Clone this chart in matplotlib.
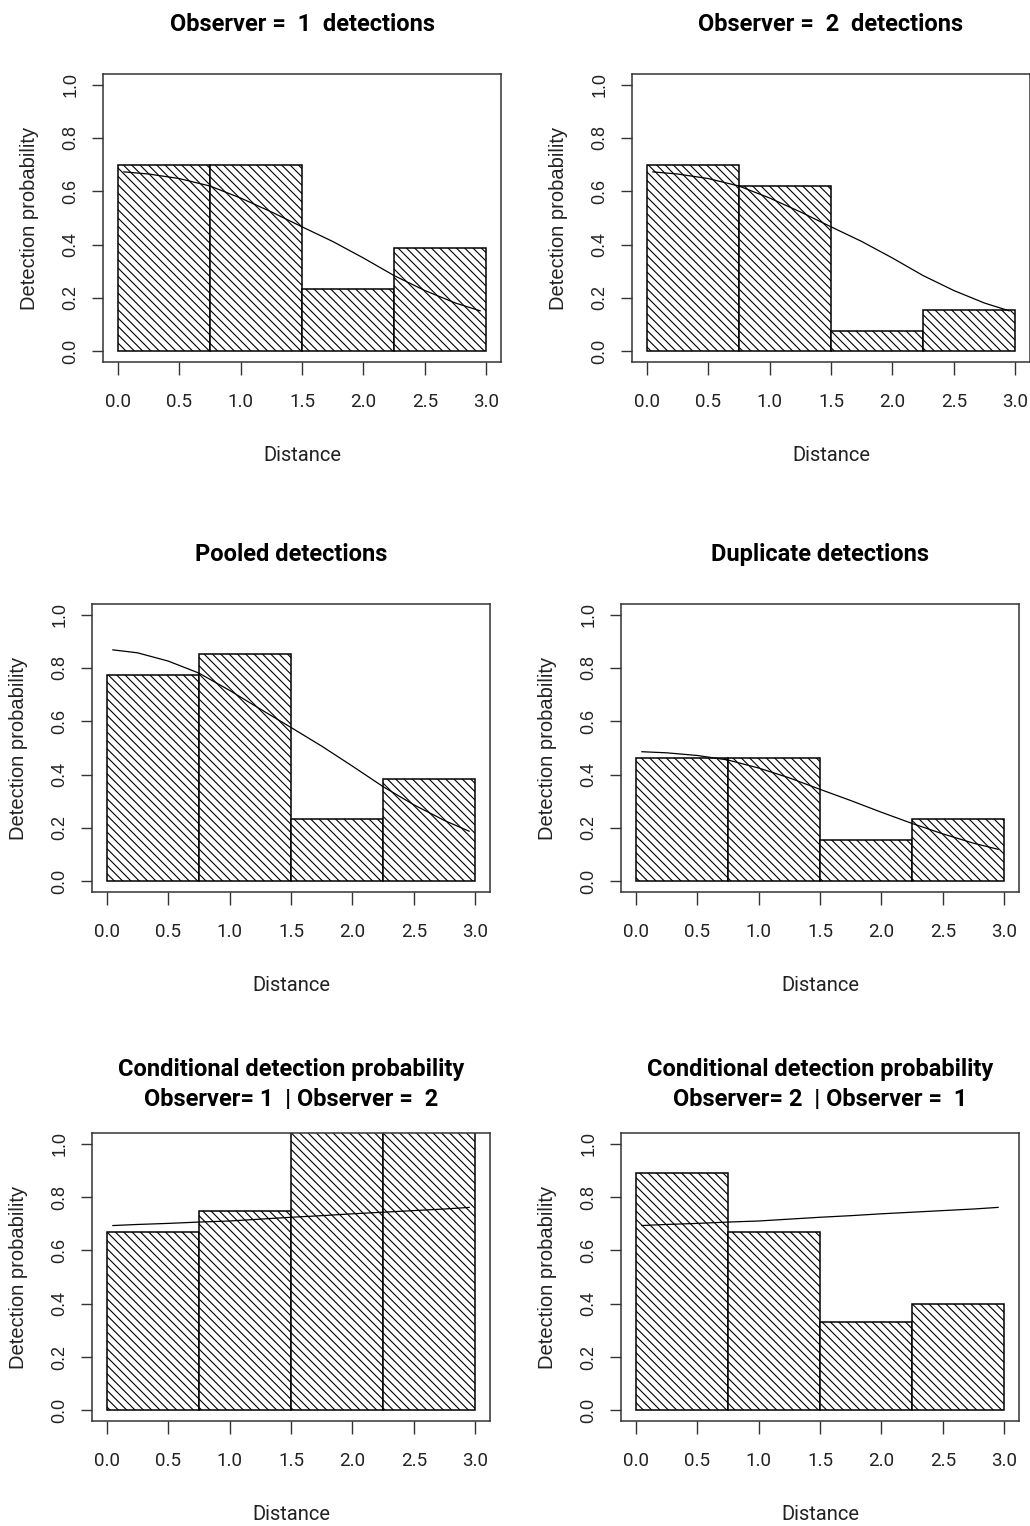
"""Histogrammes de probabilite de detection (double observateur) avec courbe ajustee."""
import matplotlib

matplotlib.use("Agg")
import matplotlib.pyplot as plt
from matplotlib import font_manager

names = {f.name for f in font_manager.fontManager.ttflist}
NARROW = "Liberation Sans Narrow" if "Liberation Sans Narrow" in names else "Roboto"
REGULAR = "Liberation Sans"

plt.rcParams["hatch.linewidth"] = 0.8

# classes de distance
BREAKS = [0.0, 0.75, 1.5, 2.25, 3.0]
CURVE_X = [0.05, 0.25, 0.5, 0.75, 1.0, 1.25, 1.5, 1.75, 2.0, 2.25, 2.5, 2.75, 2.95]

obs1_bars = [0.70, 0.70, 0.233, 0.386]
obs2_bars = [0.70, 0.621, 0.077, 0.155]
pooled_bars = [0.772, 0.851, 0.233, 0.385]
dup_bars = [0.464, 0.464, 0.156, 0.234]
cond12_bars = [0.667, 0.749, 1.2, 1.2]  # deux dernieres hors cadre
cond21_bars = [0.890, 0.667, 0.332, 0.400]

obs_curve = [0.673, 0.665, 0.648, 0.620, 0.575, 0.523, 0.467, 0.412, 0.350, 0.284, 0.228, 0.181, 0.152]
pooled_curve = [0.868, 0.857, 0.826, 0.781, 0.716, 0.646, 0.577, 0.507, 0.432, 0.355, 0.287, 0.228, 0.188]
dup_curve = [0.486, 0.482, 0.472, 0.455, 0.425, 0.388, 0.345, 0.303, 0.259, 0.217, 0.178, 0.143, 0.120]
cond_curve = [0.693, 0.697, 0.701, 0.706, 0.710, 0.717, 0.724, 0.730, 0.737, 0.743, 0.749, 0.755, 0.761]

PANELS = [
    ("Observer =  1  detections", obs1_bars, obs_curve),
    ("Observer =  2  detections", obs2_bars, obs_curve),
    ("Pooled detections", pooled_bars, pooled_curve),
    ("Duplicate detections", dup_bars, dup_curve),
    ("Conditional detection probability\nObserver= 1  | Observer =  2", cond12_bars, cond_curve),
    ("Conditional detection probability\nObserver= 2  | Observer =  1", cond21_bars, cond_curve),
]
# coin haut-gauche des cadres, en pixels
BOXES = [(103, 74), (632, 74), (92, 604), (621, 604), (92, 1133), (621, 1133)]

W, H = 1030, 1526
fig = plt.figure(figsize=(W / 100, H / 100), dpi=100)

for (title, bars, curve), (bx, by) in zip(PANELS, BOXES):
    ax = fig.add_axes([bx / W, 1 - (by + 288) / H, 398 / W, 288 / H])
    widths = [b - a for a, b in zip(BREAKS[:-1], BREAKS[1:])]
    ax.bar(BREAKS[:-1], bars, width=widths, align="edge", facecolor="white",
           edgecolor="black", linewidth=1.1, hatch="\\\\\\\\")
    ax.plot(CURVE_X, curve, color="black", linewidth=0.9)
    ax.set_xlim(-0.12, 3.12)
    ax.set_ylim(-0.04, 1.04)
    ax.set_xticks([0, 0.5, 1.0, 1.5, 2.0, 2.5, 3.0])
    ax.set_yticks([0, 0.2, 0.4, 0.6, 0.8, 1.0])
    ax.set_xticklabels([f"{v:.1f}" for v in ax.get_xticks()], fontfamily=NARROW,
                       fontsize=13.5, color="#222222")
    ax.set_yticklabels([f"{v:.1f}" for v in ax.get_yticks()], fontfamily=REGULAR,
                       fontsize=13, color="#222222", rotation=90, va="center")
    ax.tick_params(axis="x", length=9, width=1, pad=13, color="#333333")
    ax.tick_params(axis="y", length=8, width=1, pad=9, color="#333333")
    for s in ax.spines.values():
        s.set_linewidth(1.1)
        s.set_color("#333333")
    ax.set_xlabel("Distance", fontfamily=NARROW, fontsize=14.5, color="#222222")
    ax.xaxis.set_label_coords(0.5, -0.29)
    ax.set_ylabel("Detection probability", fontfamily=REGULAR, fontsize=14.5, color="#222222")
    ax.yaxis.set_label_coords(-0.16, 0.5)
    pad = 19.5 if "\n" in title else 31
    ax.set_title(title, fontfamily=NARROW, fontweight="bold", fontsize=17, pad=pad,
                 linespacing=1.4)

fig.savefig("out.png", dpi=100)
